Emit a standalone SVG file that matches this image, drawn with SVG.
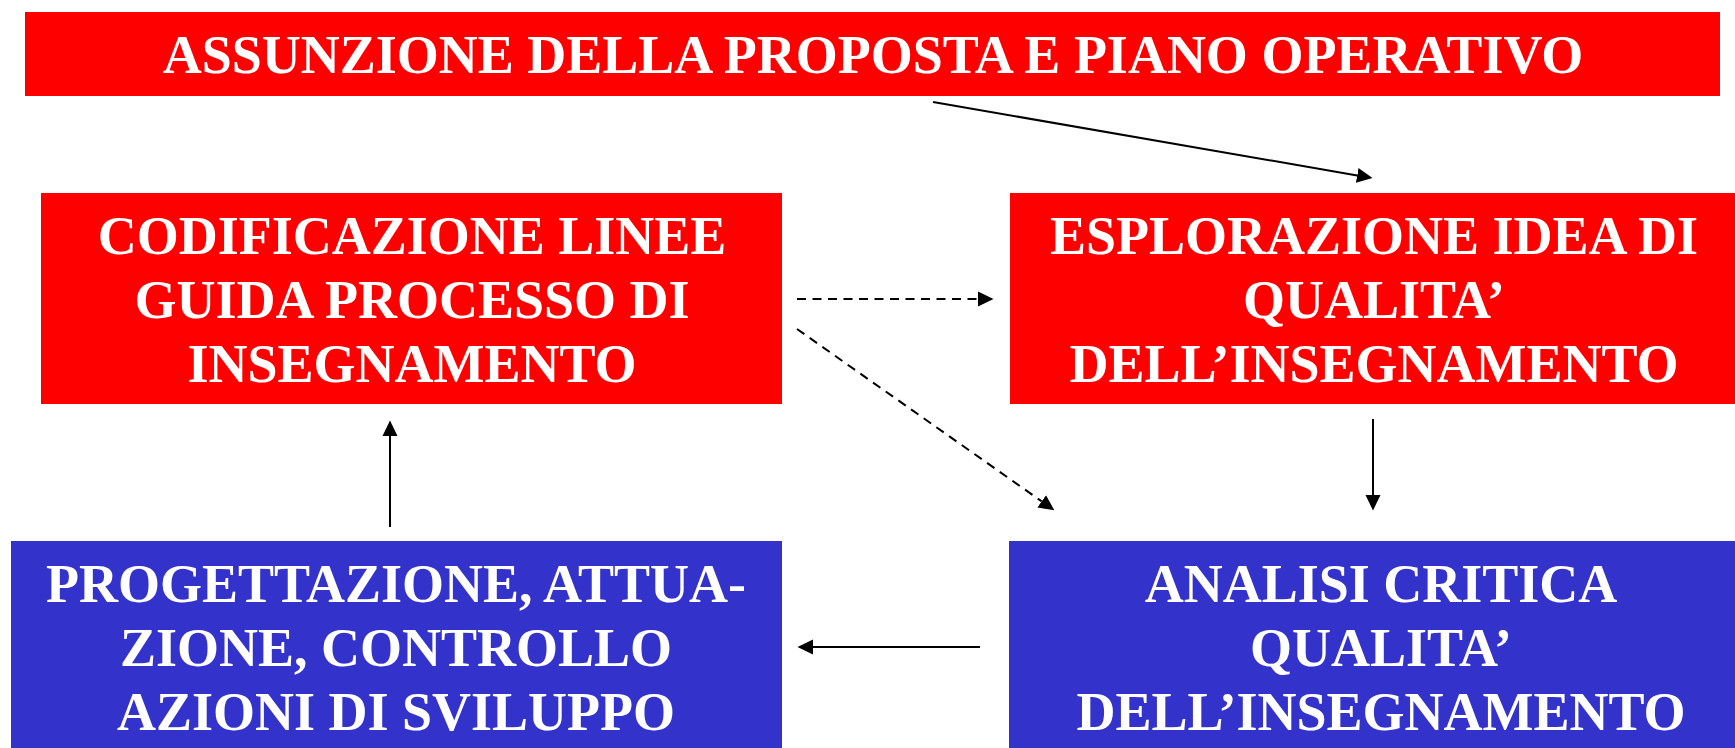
<svg xmlns="http://www.w3.org/2000/svg" width="1735" height="748" viewBox="0 0 1735 748">
  <style>
    .red { fill: #FF0000; }
    .blue { fill: #3333CC; }
    .lbl { font-family: "Liberation Serif", "Times New Roman", serif; font-weight: bold; font-size: 54px; fill: #FFFFFF; text-anchor: middle; }
    .conn { stroke: #000000; stroke-width: 2; fill: none; }
    .dash { stroke-dasharray: 9 6.5; }
  </style>
  <defs>
    <marker id="ah" markerUnits="userSpaceOnUse" markerWidth="16" markerHeight="16" refX="0" refY="7.5" orient="auto" viewBox="0 0 16 15">
      <path d="M0,0 L15.5,7.5 L0,15 z" fill="#000000"/>
    </marker>
  </defs>
  <rect width="1735" height="748" fill="#FFFFFF"/>

  <g id="node-assunzione">
    <rect class="red" x="25" y="12" width="1695" height="84"/>
    <text class="lbl" x="873" y="73">ASSUNZIONE DELLA PROPOSTA E PIANO OPERATIVO</text>
  </g>

  <g id="node-codificazione">
    <rect class="red" x="41" y="193" width="741" height="211"/>
    <text class="lbl" x="412" y="254">CODIFICAZIONE LINEE</text>
    <text class="lbl" x="412" y="318">GUIDA PROCESSO DI</text>
    <text class="lbl" x="412" y="382">INSEGNAMENTO</text>
  </g>

  <g id="node-esplorazione">
    <rect class="red" x="1010" y="193" width="725" height="211"/>
    <text class="lbl" x="1374" y="254">ESPLORAZIONE IDEA DI</text>
    <text class="lbl" x="1374" y="318">QUALITA’</text>
    <text class="lbl" x="1374" y="382">DELL’INSEGNAMENTO</text>
  </g>

  <g id="node-progettazione">
    <rect class="blue" x="11" y="541" width="771" height="207"/>
    <text class="lbl" x="396" y="602">PROGETTAZIONE, ATTUA-</text>
    <text class="lbl" x="396" y="666">ZIONE, CONTROLLO</text>
    <text class="lbl" x="396" y="730">AZIONI DI SVILUPPO</text>
  </g>

  <g id="node-analisi">
    <rect class="blue" x="1009" y="541" width="726" height="207"/>
    <text class="lbl" x="1381" y="602">ANALISI CRITICA</text>
    <text class="lbl" x="1381" y="666">QUALITA’</text>
    <text class="lbl" x="1381" y="730">DELL’INSEGNAMENTO</text>
  </g>

  <g id="connectors">
    <line class="conn" x1="933" y1="102" x2="1357.2" y2="175.4" marker-end="url(#ah)"/>
    <line class="conn dash" x1="797" y1="299" x2="978" y2="299" marker-end="url(#ah)"/>
    <line class="conn dash" x1="797" y1="329" x2="1041.7" y2="501.4" marker-end="url(#ah)"/>
    <line class="conn" x1="1373" y1="419" x2="1373" y2="495" marker-end="url(#ah)"/>
    <line class="conn" x1="390" y1="527" x2="390" y2="436" marker-end="url(#ah)"/>
    <line class="conn" x1="980" y1="647" x2="813" y2="647" marker-end="url(#ah)"/>
  </g>
</svg>
